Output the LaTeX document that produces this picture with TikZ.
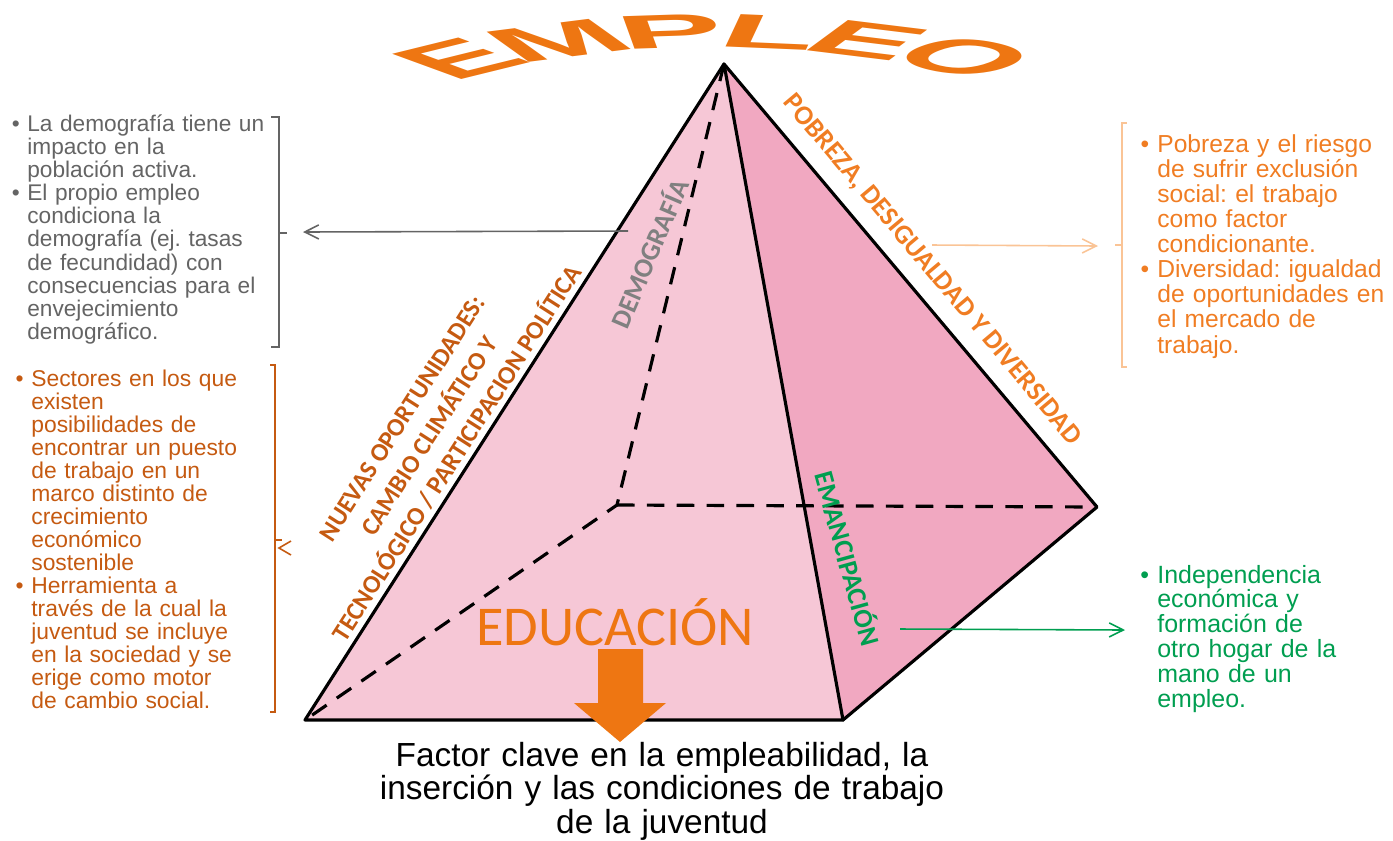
\documentclass[tikz,border=0pt]{standalone}
\usepackage{fontspec}
\setmainfont{Liberation Sans}
\newfontfamily\calibri{Carlito}
\usetikzlibrary{arrows.meta}
\frenchspacing
\definecolor{frontpink}{RGB}{246,199,214}
\definecolor{sidepink}{RGB}{241,168,193}
\definecolor{titorange}{RGB}{238,118,18}
\definecolor{txtorange}{RGB}{240,125,35}
\definecolor{paleorange}{RGB}{250,196,150}
\definecolor{rust}{RGB}{197,90,17}
\definecolor{txtgray}{RGB}{100,100,100}
\definecolor{labgray}{RGB}{128,128,128}
\definecolor{leafgreen}{RGB}{0,158,80}
\newcommand{\itembul}{\leavevmode\llap{\textbullet\ }}
\tikzset{%
    edge/.style={line width=1.8pt, line cap=round, line join=round},
    hid/.style={line width=1.8pt, dash pattern=on 10pt off 7pt},
    txt/.style={inner sep=0pt, align=left, anchor=base west, text width=6.5cm},
    brk/.style={line width=0.9pt},
    barb/.style={-{Straight Barb[length=8pt,width=8pt]}, line width=0.9pt}
}

\begin{document}
\begin{tikzpicture}[
                x=0.02cm, y=-0.02cm,
                lab/.style={inner sep=0pt, font={\calibri\bfseries\fontsize{15.5}{18.5}\selectfont}},
                titletxt/.style={anchor=base, inner sep=0pt, text=titorange, font={\bfseries\fontsize{50}{50}\selectfont}}
            ]
            \useasboundingbox (0,0) rectangle (1393,840);

            % title along an arch
            \begin{scope}[shift={(715,152)}, xscale=1.8, yscale=0.54, transform shape]
                \foreach \ch/\ang [count=\i] in {E/129.4, M/112.8, P/96.2, L/82, E/67.8, O/51.7}
                    \node[titletxt, rotate=\ang-90] (emp\i) at ({193.6*cos(\ang)}, {-193.6*sin(\ang)}) {\ch};
            \end{scope}

            % pyramid
            \coordinate (apex) at (724,64);
            \coordinate (fl) at (305,720);
            \coordinate (fr) at (843,720);
            \coordinate (br) at (1097,507);
            \coordinate (bl) at (617,505);

            \fill[frontpink] (apex) -- (fl) -- (fr) -- cycle;
            \fill[sidepink] (apex) -- (fr) -- (br) -- cycle;
            \draw[hid] (apex) -- (bl) -- (fl);
            \draw[hid] (bl) -- (br);
            \draw[edge] (fl) -- (fr) -- (br) -- (apex) -- cycle;
            \draw[edge] (apex) -- (fr);

            % labels on the faces
            \node[lab, text=labgray, rotate=66.8] (demo) at (648,253) {DEMOGRAFÍA};
            \node[lab, text=txtorange, rotate=-50] (pobreza) at (932,270) {POBREZA, DESIGUALDAD Y DIVERSIDAD};
            \node[lab, text=rust, rotate=57.4, align=center, font={\calibri\bfseries\fontsize{14.5}{18.5}\selectfont}] (nuevas) at (430,436)
                {NUEVAS OPORTUNIDADES:\\CAMBIO CLIMÁTICO Y\\TECNOLÓGICO / PARTICIPACION POLÍTICA};
            \node[lab, text=leafgreen, rotate=-74.5] (eman) at (849,558) {EMANCIPACIÓN};
            \node[anchor=base, inner sep=0pt, text=titorange, font={\calibri\fontsize{32}{38}\selectfont}] (edu) at (615,645) {EDUCACIÓN};

            % block arrow
            \fill[titorange] (598,649) -- (643,649) -- (643,703) -- (666,703) -- (620,742)
                -- (574,703) -- (598,703) -- cycle;
            \node[anchor=base, inner sep=0pt, align=center, text width=12cm, font={\fontsize{19}{19.3}\selectfont}] (factor) at (662,766)
                {Factor clave en la empleabilidad, la\\inserción y las condiciones de trabajo\\de la juventud};

            % left, grey
            \node[txt, text=txtgray, font={\fontsize{12.9}{13.2}\selectfont}] (demotxt) at (27,131)
                {\itembul La demografía tiene un\\impacto en la\\población activa.\\%
                 \itembul El propio empleo\\condiciona la\\demografía (ej. tasas\\de fecundidad) con\\%
                 consecuencias para el\\envejecimiento\\demográfico.};
            \draw[brk, txtgray] (271,117) -- (279,117) -- (279,347) -- (271,347);
            \draw[brk, txtgray] (279,233) -- (287,233);
            \coordinate (gsrc) at (628,231);
            \coordinate (gdst) at (303,232);
            \draw[barb, txtgray] (gsrc) -- (gdst);

            % left, rust
            \node[txt, text=rust, font={\fontsize{13}{13.1}\selectfont}] (nuevastxt) at (31,386)
                {\itembul Sectores en los que\\existen\\posibilidades de\\encontrar un puesto\\de trabajo en un\\%
                 marco distinto de\\crecimiento\\económico\\sostenible\\%
                 \itembul Herramienta a\\través de la cual la\\juventud se incluye\\en la sociedad y se\\%
                 erige como motor\\de cambio social.};
            \draw[brk, rust] (270,365) -- (275,365) -- (275,712) -- (270,712);
            \draw[brk, rust] (275,540) -- (282,540);
            \draw[brk, rust] (291,541) -- (279,548) -- (291,555);

            % right, orange
            \node[txt, text=txtorange, font={\fontsize{14}{14.3}\selectfont}] (pobtxt) at (1157,152)
                {\itembul Pobreza y el riesgo\\de sufrir exclusión\\social: el trabajo\\como factor\\condicionante.\\%
                 \itembul Diversidad: igualdad\\de oportunidades en\\el mercado de\\trabajo.};
            \draw[brk, paleorange] (1127,123) -- (1122,123) -- (1122,367) -- (1127,367);
            \draw[brk, paleorange] (1122,245) -- (1115,245);
            \coordinate (osrc) at (932,245);
            \coordinate (odst) at (1098,246);
            \draw[barb, paleorange] (osrc) -- (odst);

            % right, green
            \node[txt, text=leafgreen, font={\fontsize{14.2}{14.2}\selectfont}] (emantxt) at (1157,583)
                {\itembul Independencia\\económica y\\formación de\\otro hogar de la\\mano de un\\empleo.};
            \coordinate (vsrc) at (900,629);
            \coordinate (vdst) at (1125,630);
            \draw[barb, leafgreen] (vsrc) -- (vdst);
        \end{tikzpicture}
\end{document}
